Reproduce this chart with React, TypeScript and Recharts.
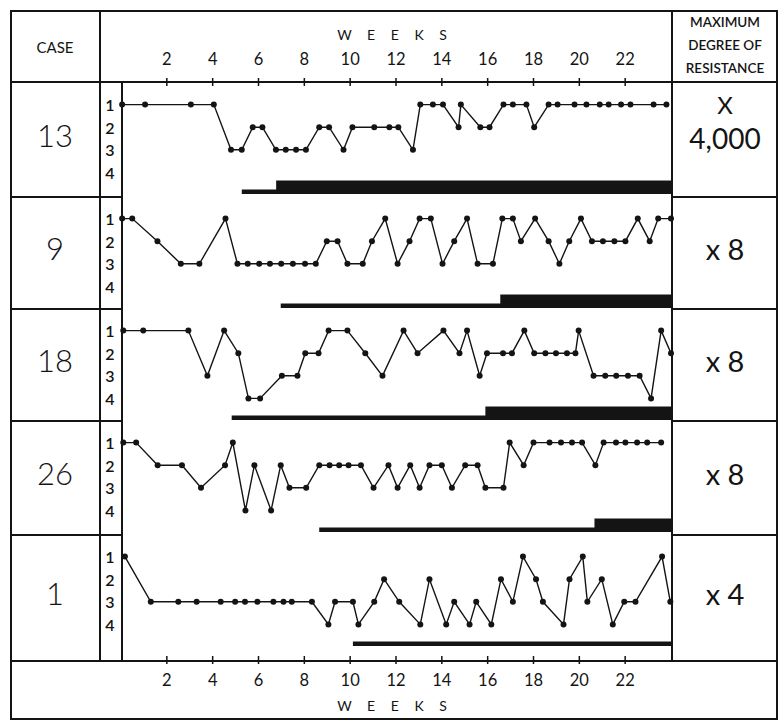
import React from 'react';
import { LineChart, Line, XAxis, YAxis, ReferenceArea } from 'recharts';

const weekTicks = [2, 4, 6, 8, 10, 12, 14, 16, 18, 20, 22];
const levelTicks = [1, 2, 3, 4];

// [week, level] pairs, level 1 = top row
const case13: [number, number][] = [
  [0.05, 1], [1.05, 1], [3.05, 1], [4.05, 1], [4.8, 3], [5.27, 3], [5.75, 2], [6.17, 2],
  [6.76, 3], [7.19, 3], [7.64, 3], [8.07, 3], [8.65, 2], [9.08, 2], [9.71, 3], [10.1, 2],
  [11.05, 2], [11.71, 2], [12.1, 2], [12.74, 3], [13.06, 1], [13.61, 1], [14.05, 1], [14.73, 2],
  [14.83, 1], [15.68, 2], [16.08, 2], [16.69, 1], [17.1, 1], [17.69, 1], [18.03, 2], [18.66, 1],
  [19.05, 1], [19.79, 1], [20.31, 1], [20.89, 1], [21.28, 1], [21.82, 1], [22.23, 1], [23.24, 1],
  [23.8, 1],
];
const case9: [number, number][] = [
  [0.05, 1], [0.49, 1], [1.59, 2], [2.61, 3], [3.42, 3], [4.56, 1], [5.08, 3], [5.53, 3],
  [6.03, 3], [6.5, 3], [6.99, 3], [7.5, 3], [8.03, 3], [8.5, 3], [8.98, 2], [9.45, 2],
  [9.88, 3], [10.55, 3], [10.95, 2], [11.53, 1], [12.07, 3], [12.59, 2], [13.03, 1], [13.52, 1],
  [14.03, 3], [14.54, 2], [15.1, 1], [15.56, 3], [16.23, 3], [16.64, 1], [17.1, 1], [17.45, 2],
  [18.07, 1], [18.66, 2], [19.13, 3], [19.56, 2], [20.07, 1], [20.55, 2], [21.03, 2], [21.53, 2],
  [22.01, 2], [22.55, 1], [23.07, 2], [23.44, 1], [24, 1],
];
const case18: [number, number][] = [
  [0.1, 1], [0.97, 1], [2.94, 1], [3.77, 3], [4.5, 1], [5.12, 2], [5.56, 4], [6.07, 4],
  [7.02, 3], [7.7, 3], [8.04, 2], [8.62, 2], [9.06, 1], [9.88, 1], [10.66, 2], [11.41, 3],
  [12.33, 1], [12.94, 2], [14.07, 1], [14.77, 2], [15.1, 1], [15.65, 3], [15.97, 2], [16.67, 2],
  [17.06, 2], [17.6, 1], [18.03, 2], [18.52, 2], [18.98, 2], [19.46, 2], [19.83, 2], [19.97, 1],
  [20.62, 3], [21.13, 3], [21.61, 3], [22.12, 3], [22.63, 3], [23.13, 4], [23.57, 1], [24, 2],
];
const case26: [number, number][] = [
  [0.1, 1], [0.66, 1], [1.6, 2], [2.66, 2], [3.49, 3], [4.54, 2], [4.88, 1], [5.43, 4],
  [5.82, 2], [6.55, 4], [6.97, 2], [7.35, 3], [8.08, 3], [8.65, 2], [9.1, 2], [9.52, 2],
  [9.93, 2], [10.47, 2], [11.02, 3], [11.67, 2], [12.07, 3], [12.62, 2], [13.03, 3], [13.46, 2],
  [14.0, 2], [14.44, 3], [15.02, 2], [15.56, 2], [15.9, 3], [16.69, 3], [16.96, 1], [17.57, 2],
  [18.0, 1], [18.7, 1], [19.2, 1], [19.68, 1], [20.12, 1], [20.7, 2], [21.06, 1], [21.6, 1],
  [22.01, 1], [22.52, 1], [22.96, 1], [23.57, 1],
];
const case1: [number, number][] = [
  [0.17, 1], [1.3, 3], [2.5, 3], [3.3, 3], [4.35, 3], [4.98, 3], [5.41, 3], [5.95, 3],
  [6.65, 3], [7.09, 3], [7.45, 3], [8.33, 3], [9.05, 4], [9.34, 3], [10.12, 3], [10.36, 4],
  [11.05, 3], [11.48, 2], [12.14, 3], [13.06, 4], [13.46, 2], [14.19, 4], [14.54, 3], [15.21, 4],
  [15.5, 3], [16.16, 4], [16.58, 2], [17.1, 3], [17.54, 1], [18.11, 2], [18.41, 3], [19.31, 4],
  [19.57, 2], [20.15, 1], [20.35, 3], [20.98, 2], [21.46, 4], [21.96, 3], [22.45, 3], [23.61, 1],
  [23.97, 3],
];

const caseLabels = ['13', '9', '18', '26', '1'];
const caseSeries = [case13, case9, case18, case26, case1];
const resistance = ['X|4,000', 'x 8', 'x 8', 'x 8', 'x 4'];
// week the treatment bar starts (thin), and where it thickens
const treatStart = [5.27, 6.97, 4.83, 8.65, 10.12];
const treatThick: (number | null)[] = [6.77, 16.55, 15.9, 20.66, null];

const rowTops = [82, 196, 308, 420, 534];
const rowBottoms = [196, 308, 420, 534, 660];

const INK = '#141414';
const FONT = 'Lato, "Open Sans", sans-serif';

const LevelTick = (props: any) => (
  <text x={10} y={props.y} textAnchor="middle" dominantBaseline="central" fontSize={16} fontWeight={600} fill={INK} fontFamily={FONT}>
    {props.payload.value}
  </text>
);

function makeWeekTick(lineY: number, labelY: number) {
  return (props: any) => (
    <g>
      <line x1={props.x} x2={props.x} y1={lineY - 4} y2={lineY + 4} stroke={INK} strokeWidth={1.5} />
      <text x={props.x} y={labelY} textAnchor="middle" dominantBaseline="central" fontSize={16.5} fill={INK} fontFamily={FONT}>
        {props.payload.value}
      </text>
    </g>
  );
}

function CaseChart({ idx }: { idx: number }) {
  const data = caseSeries[idx].map(([week, level]) => ({ week, level }));
  const thick = treatThick[idx];
  return (
    <div style={{ position: 'absolute', left: 100, top: rowTops[idx] }}>
      <LineChart width={576} height={113} data={data} margin={{ top: 0, right: 5, bottom: 0, left: 0 }}>
        <XAxis dataKey="week" type="number" domain={[0, 24]} hide />
        <YAxis
          type="number"
          domain={[0, 5]}
          reversed
          ticks={levelTicks}
          interval={0}
          width={21}
          axisLine={false}
          tickLine={false}
          tick={LevelTick}
        />
        <ReferenceArea x1={treatStart[idx]} x2={24} y1={4.76} y2={4.96} fill={INK} fillOpacity={1} stroke="none" />
        {thick !== null && (
          <ReferenceArea x1={thick} x2={24} y1={4.36} y2={4.96} fill={INK} fillOpacity={1} stroke="none" />
        )}
        <Line
          type="linear"
          dataKey="level"
          stroke={INK}
          strokeWidth={1.4}
          dot={{ r: 3, fill: INK, stroke: INK, strokeWidth: 0 }}
          isAnimationActive={false}
        />
      </LineChart>
    </div>
  );
}

const axisData = weekTicks.map((week) => ({ week }));

function WeekAxis({ top, height, orientation, lineY, labelY }: any) {
  return (
    <div style={{ position: 'absolute', left: 100, top }}>
      <LineChart width={576} height={height} data={axisData} margin={{ top: 0, right: 5, bottom: 0, left: 21 }}>
        <XAxis
          type="number"
          dataKey="week"
          domain={[0, 24]}
          ticks={weekTicks}
          interval={0}
          orientation={orientation}
          height={8}
          axisLine={false}
          tickLine={false}
          tick={makeWeekTick(lineY, labelY)}
        />
        <YAxis hide domain={[0, 5]} />
      </LineChart>
    </div>
  );
}

const line = (left: number, top: number, width: number, height: number) => (
  <div style={{ position: 'absolute', left, top, width, height, background: INK }} />
);

const label = (text: string, cx: number, cy: number, size: number, extra: React.CSSProperties = {}) => (
  <div
    style={{
      position: 'absolute',
      left: cx - 100,
      top: cy - size * 0.6,
      width: 200,
      height: size * 1.2,
      lineHeight: `${size * 1.2}px`,
      textAlign: 'center',
      fontSize: size,
      color: INK,
      fontFamily: FONT,
      whiteSpace: 'nowrap',
      ...extra,
    }}
  >
    {text}
  </div>
);

export default function App() {
  return (
    <div style={{ position: 'absolute', left: 0, top: 0, width: 780, height: 724, overflow: 'hidden', background: '#fff' }}>
      {/* frame */}
      <div style={{ position: 'absolute', left: 10, top: 10, width: 764, height: 706, border: `2px solid ${INK}` }} />
      {line(99, 10, 1.5, 652)}
      {line(121, 82, 1.5, 580)}
      {line(671, 10, 1.5, 652)}
      {line(10, 81, 768, 1.5)}
      {line(10, 660, 768, 1.5)}
      {rowBottoms.slice(0, 4).map((y) => (
        <React.Fragment key={y}>
          {line(10, y, 112, 1.5)}
          {line(672, y, 106, 1.5)}
        </React.Fragment>
      ))}

      {/* header */}
      {label('CASE', 55, 47, 15)}
      {label('W E E K S', 395, 35, 14, { letterSpacing: 6 })}
      {label('MAXIMUM', 725, 22, 13.5, { fontWeight: 600 })}
      {label('DEGREE OF', 725, 45, 13.5, { fontWeight: 600 })}
      {label('RESISTANCE', 725, 68, 13.5, { fontWeight: 600 })}

      <WeekAxis top={10} height={80} orientation="bottom" lineY={72} labelY={49} />
      <WeekAxis top={650} height={70} orientation="top" lineY={10} labelY={30} />
      {label('W E E K S', 395, 706, 14, { letterSpacing: 6 })}

      {caseLabels.map((c, i) => {
        const mid = (rowTops[i] + rowBottoms[i]) / 2;
        const parts = resistance[i].split('|');
        return (
          <React.Fragment key={c}>
            {label(c, 55, mid - 3, 31, { fontWeight: 300 })}
            {parts.length === 2 ? (
              <>
                {label(parts[0], 725, mid - 34, 24, { fontWeight: 400 })}
                {label(parts[1], 725, mid, 28, { fontWeight: 400 })}
              </>
            ) : (
              label(parts[0], 725, mid - 3, 29, { fontWeight: 400 })
            )}
            <CaseChart idx={i} />
          </React.Fragment>
        );
      })}
    </div>
  );
}
